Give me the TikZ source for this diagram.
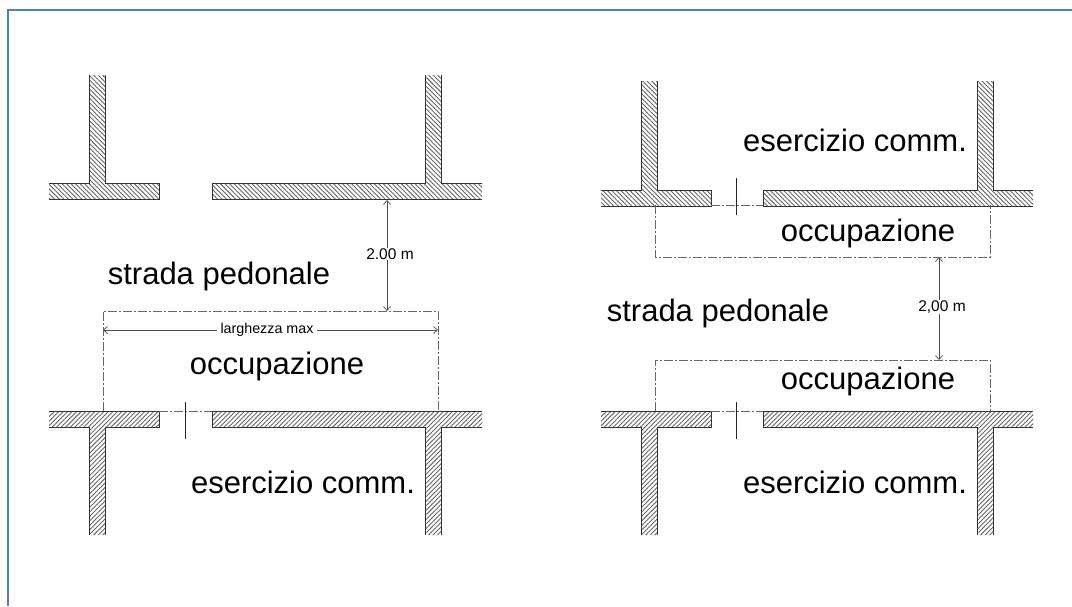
\documentclass[tikz,border=0pt]{standalone}
\usepackage{fontspec}
\setmainfont{Liberation Sans}
\usetikzlibrary{patterns.meta,arrows.meta}
\definecolor{framecol}{HTML}{4F81BD}
\tikzset{
  wallnw/.style={pattern={Lines[angle=-45,distance=3.2pt,line width=.9pt]},pattern color=black!60},
  wallne/.style={pattern={Lines[angle=45,distance=3.2pt,line width=.9pt]},pattern color=black!60},
  edge/.style={line width=.9pt,draw=black!80},
  occ/.style={line width=.9pt,draw=black!60,dash pattern=on 9pt off 2pt on 2pt off 2pt},
  dim/.style={line width=.7pt,draw=black!70,{Straight Barb[length=4pt,width=7pt]}-{Straight Barb[length=4pt,width=7pt]}},
  tick/.style={line width=.8pt,draw=black!85},
  bigtext/.style={font=\fontsize{31}{34}\selectfont},
  dimtext/.style={font=\fontsize{15.5}{17}\selectfont,fill=white,inner sep=1pt},
  widthtext/.style={font=\fontsize{14.3}{16}\selectfont,fill=white,inner sep=4pt,inner ysep=1pt}
}
\begin{document}
\begin{tikzpicture}[x=1pt,y=-1pt]
  \useasboundingbox (0,0) rectangle (1072,606);
  \draw[line width=2.6pt,draw=framecol] (8,606) -- (8,10) -- (1072,10);

  % Left panel, upper walls
  \fill[wallnw] (49,183) -- (89,183) -- (89,75) -- (105,75) -- (105,183) -- (159,183) -- (159,199) -- (49,199) -- cycle;
  \draw[edge] (49,183) -- (89,183) -- (89,75) (105,75) -- (105,183) -- (159,183) -- (159,199) -- (49,199);
  \fill[wallnw] (212,183) -- (425,183) -- (425,75) -- (441,75) -- (441,183) -- (482,183) -- (482,199) -- (212,199) -- cycle;
  \draw[edge] (482,183) -- (441,183) -- (441,75) (425,75) -- (425,183) -- (212,183) -- (212,199) -- (482,199);

  % Left panel, lower walls
  \fill[wallne] (49,411) -- (159,411) -- (159,427) -- (105,427) -- (105,535) -- (89,535) -- (89,427) -- (49,427) -- cycle;
  \draw[edge] (49,411) -- (159,411) -- (159,427) -- (105,427) -- (105,535) (89,535) -- (89,427) -- (49,427);
  \fill[wallne] (212,411) -- (482,411) -- (482,427) -- (441,427) -- (441,535) -- (425,535) -- (425,427) -- (212,427) -- cycle;
  \draw[edge] (482,411) -- (212,411) -- (212,427) -- (425,427) -- (425,535) (441,535) -- (441,427) -- (482,427);

  % Left panel, occupation
  \coordinate (occA) at (103,311);
  \coordinate (occB) at (438,311);
  \draw[occ] (103,411) -- (occA) -- (occB) -- (438,411);
  \draw[occ] (159,411) -- (212,411);
  \draw[tick] (185,402) -- (185,439);

  % Left panel, dimensions
  \coordinate (wallA) at (387,200);
  \coordinate (occM) at (387,311);
  \draw[dim] (wallA) -- (occM);
  \node[dimtext] (gapA) at (390,254) {2.00 m};
  \draw[dim] (occA |- 0,330) -- (occB |- 0,330);
  \node[widthtext] (width) at (267,330) {larghezza max};

  % Left panel, labels
  \node[bigtext] (roadA) at (219,276) {strada pedonale};
  \node[bigtext] (occL) at (277,366) {occupazione};
  \node[bigtext] (shopL) at (303,482) {esercizio comm.};

  % Right panel, upper walls
  \fill[wallnw] (601,190) -- (641,190) -- (641,81) -- (657,81) -- (657,190) -- (711,190) -- (711,206) -- (601,206) -- cycle;
  \draw[edge] (601,190) -- (641,190) -- (641,81) (657,81) -- (657,190) -- (711,190) -- (711,206) -- (601,206);
  \fill[wallnw] (763,190) -- (977,190) -- (977,81) -- (993,81) -- (993,190) -- (1033,190) -- (1033,206) -- (763,206) -- cycle;
  \draw[edge] (1033,190) -- (993,190) -- (993,81) (977,81) -- (977,190) -- (763,190) -- (763,206) -- (1033,206);

  % Right panel, lower walls
  \fill[wallne] (601,411) -- (711,411) -- (711,427) -- (657,427) -- (657,535) -- (641,535) -- (641,427) -- (601,427) -- cycle;
  \draw[edge] (601,411) -- (711,411) -- (711,427) -- (657,427) -- (657,535) (641,535) -- (641,427) -- (601,427);
  \fill[wallne] (763,411) -- (1033,411) -- (1033,427) -- (993,427) -- (993,535) -- (977,535) -- (977,427) -- (763,427) -- cycle;
  \draw[edge] (1033,411) -- (763,411) -- (763,427) -- (977,427) -- (977,535) (993,535) -- (993,427) -- (1033,427);

  % Right panel, occupations
  \coordinate (occC) at (939,257);
  \coordinate (occD) at (939,360);
  \draw[occ] (655,205) -- (655,257) -- (990,257) -- (990,205);
  \draw[occ] (655,411) -- (655,360) -- (990,360) -- (990,411);
  \draw[occ] (711,205) -- (763,205);
  \draw[occ] (711,411) -- (763,411);
  \draw[tick] (736,178) -- (736,215);
  \draw[tick] (736,402) -- (736,439);

  % Right panel, dimension
  \draw[dim] (occC) -- (occD);
  \node[dimtext] (gapB) at (942,307) {2,00 m};

  % Right panel, labels
  \node[bigtext] (shopT) at (855,140) {esercizio comm.};
  \node[bigtext] (occT) at (868,233) {occupazione};
  \node[bigtext] (roadB) at (718,313) {strada pedonale};
  \node[bigtext] (occB2) at (868,381) {occupazione};
  \node[bigtext] (shopB) at (855,482) {esercizio comm.};
\end{tikzpicture}
\end{document}
